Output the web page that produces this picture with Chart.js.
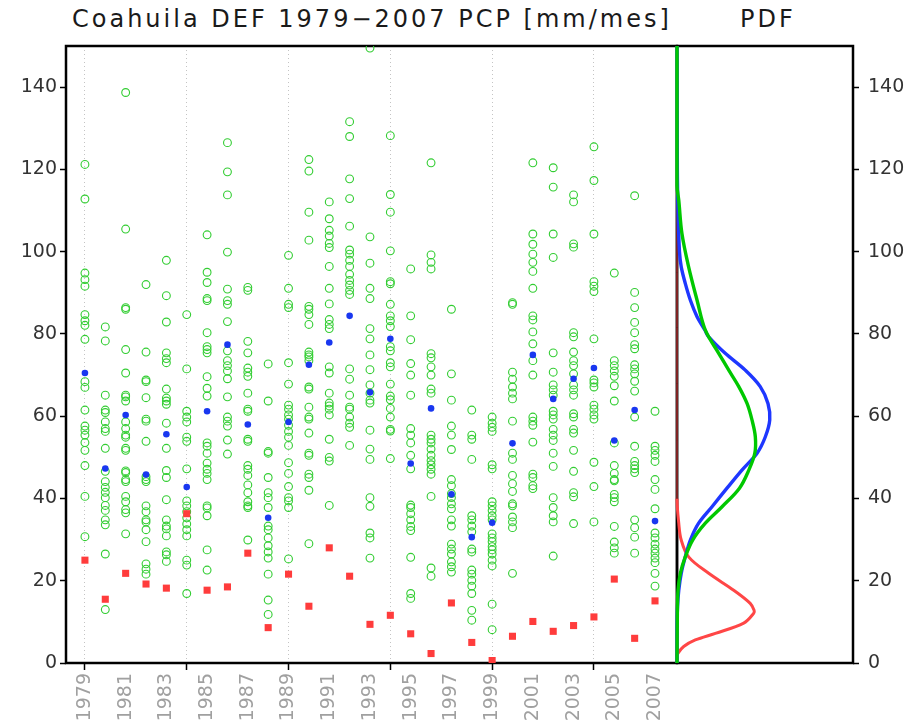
<!DOCTYPE html>
<html>
<head>
<meta charset="utf-8">
<script src="https://cdn.jsdelivr.net/npm/chart.js@4.4.1/dist/chart.umd.min.js"></script>
<style>
  html, body { margin: 0; padding: 0; background: #fff; }
  #wrap { position: relative; width: 912px; height: 727px; }
  #wrap canvas { position: absolute; left: 0; top: 0; }
  .title { position: absolute; top: 5px; font-family: "DejaVu Sans", sans-serif; font-size: 24px; letter-spacing: 3px; color: #1a1a1a; white-space: nowrap; }
</style>
</head>
<body>
<div id="wrap">
  <div class="title" style="left:72px">Coahuila DEF 1979−2007 PCP [mm/mes]</div>
  <div class="title" style="left:740px">PDF</div>
  <canvas id="scatter-chart" width="912" height="727"></canvas>
  <canvas id="pdf-chart" width="912" height="727"></canvas>
</div>
<script>
// years on the x axis
const years = [1979, 1980, 1981, 1982, 1983, 1984, 1985, 1986, 1987, 1988, 1989, 1990, 1991, 1992, 1993,
  1994, 1995, 1996, 1997, 1998, 1999, 2000, 2001, 2002, 2003, 2004, 2005, 2006, 2007];
const yTicks = [0, 20, 40, 60, 80, 100, 120, 140];

// observed (red squares)
const obs = [25.0, 15.5, 21.8, 19.2, 18.2, 36.3, 17.7, 18.5, 26.7, 8.6, 21.6, 13.8, 28.0, 21.1, 9.4,
  11.6, 7.1, 2.3, 14.6, 5.0, 0.6, 6.5, 10.1, 7.7, 9.1, 11.2, 20.4, 6.0, 15.1];

// ensemble mean (blue dots)
const ensMean = [70.5, 47.3, 60.3, 45.8, 55.6, 42.8, 61.2, 77.4, 58.0, 35.3, 58.6, 72.5, 77.9, 84.4, 65.8,
  78.8, 48.5, 61.9, 41.0, 30.6, 34.1, 53.4, 74.9, 64.2, 69.1, 71.7, 54.1, 61.5, 34.5];

// ensemble members (green circles), one list per year
const members = [
  [121.2, 112.8, 94.8, 93.2, 91.6, 84.7, 83.2, 82.1, 78.7, 68.4, 67.0, 61.5, 57.6, 56.6, 55.4, 53.6, 51.7, 48.0, 40.5, 30.7],
  [81.7, 78.3, 65.1, 61.5, 60.9, 58.6, 57.0, 56.3, 52.2, 46.6, 44.1, 42.7, 41.5, 40.2, 38.3, 37.1, 34.8, 33.6, 26.5, 13.0],
  [138.7, 105.5, 86.4, 86.0, 76.2, 70.5, 65.1, 64.7, 63.7, 58.6, 57.0, 55.4, 54.9, 52.2, 51.7, 46.7, 46.3, 44.6, 44.1, 40.5, 39.2, 37.3, 36.5, 31.4],
  [92.0, 75.6, 68.8, 68.4, 64.5, 59.3, 58.8, 53.9, 45.3, 44.6, 44.1, 38.2, 36.8, 34.8, 34.3, 32.4, 29.5, 24.1, 22.8, 21.6],
  [97.9, 89.3, 82.9, 75.4, 74.0, 73.0, 66.6, 64.4, 63.7, 62.9, 58.3, 52.2, 46.8, 45.1, 39.7, 34.8, 33.3, 32.6, 30.9, 27.0, 26.3, 24.7],
  [84.7, 71.5, 61.2, 59.8, 58.6, 54.9, 53.9, 47.2, 39.4, 38.2, 36.8, 35.3, 33.8, 32.4, 30.9, 25.0, 23.8, 16.9],
  [104.1, 95.0, 92.5, 88.6, 88.1, 80.3, 76.9, 76.2, 75.4, 69.6, 66.8, 64.9, 53.5, 52.7, 51.0, 48.6, 47.1, 46.1, 44.6, 38.2, 37.7, 35.8, 27.5, 22.6],
  [126.5, 119.4, 113.8, 99.9, 90.9, 88.1, 87.2, 83.0, 75.9, 73.5, 72.3, 71.0, 69.1, 64.7, 59.8, 58.8, 57.6, 54.2, 50.8],
  [91.3, 90.6, 78.2, 75.4, 71.7, 70.7, 69.7, 65.6, 61.7, 61.2, 54.4, 53.9, 48.0, 47.1, 45.6, 43.3, 41.4, 39.2, 38.2, 37.8, 29.9],
  [72.7, 63.7, 51.4, 51.0, 45.1, 41.4, 40.2, 37.8, 33.3, 32.4, 30.4, 28.5, 27.0, 25.5, 21.6, 15.3, 11.8],
  [99.1, 91.1, 87.2, 86.4, 73.0, 67.8, 62.7, 61.7, 60.3, 59.3, 57.8, 56.3, 54.9, 52.9, 48.7, 46.1, 42.9, 40.2, 39.4, 37.8, 25.3],
  [122.4, 119.6, 109.6, 102.8, 86.7, 86.0, 84.7, 82.3, 75.6, 74.9, 74.4, 73.5, 67.1, 66.6, 62.2, 59.8, 59.3, 55.9, 51.0, 50.5, 45.9, 45.1, 42.0, 29.0],
  [112.1, 108.0, 105.2, 103.8, 102.0, 101.0, 96.4, 91.1, 87.3, 83.5, 82.3, 81.3, 72.0, 70.5, 65.6, 63.2, 62.5, 61.7, 60.3, 54.4, 50.0, 49.1, 38.3],
  [131.6, 128.0, 117.7, 112.9, 106.2, 100.4, 99.4, 97.9, 96.4, 94.5, 93.0, 91.9, 90.6, 89.6, 71.5, 69.0, 65.1, 62.2, 61.7, 59.8, 58.3, 57.3, 52.9],
  [149.5, 103.6, 97.2, 91.1, 88.6, 81.3, 78.8, 74.9, 71.3, 67.6, 65.6, 63.9, 63.2, 56.6, 52.0, 49.5, 40.2, 38.1, 31.6, 30.4, 25.5],
  [128.2, 113.9, 109.6, 100.2, 92.7, 92.2, 87.2, 84.4, 83.2, 81.8, 76.9, 75.9, 73.0, 72.0, 67.8, 64.9, 64.0, 61.9, 59.8, 56.8, 56.4, 49.7],
  [95.8, 84.4, 78.6, 72.8, 70.0, 65.1, 57.0, 55.4, 53.5, 50.5, 47.2, 38.4, 37.8, 36.3, 34.8, 33.2, 32.2, 25.7, 16.9, 15.7],
  [121.6, 99.2, 97.4, 95.8, 75.2, 74.2, 72.0, 70.0, 66.6, 65.6, 55.4, 54.4, 53.5, 52.0, 50.5, 49.2, 48.2, 47.1, 45.9, 40.5, 23.1, 21.1],
  [86.0, 70.3, 63.9, 57.6, 55.4, 51.9, 44.6, 43.1, 41.2, 40.2, 38.7, 37.5, 34.8, 33.3, 28.9, 27.7, 26.5, 24.6, 23.4, 22.1],
  [61.5, 55.4, 54.4, 49.5, 35.8, 34.8, 33.3, 31.9, 27.7, 27.0, 22.6, 21.6, 20.1, 18.7, 16.9, 12.8, 10.4],
  [59.8, 58.3, 57.3, 56.3, 48.2, 47.2, 39.2, 38.2, 37.1, 35.8, 34.8, 31.4, 30.4, 29.5, 28.3, 27.5, 26.5, 25.0, 23.6, 14.3, 8.1],
  [87.6, 87.2, 70.7, 69.0, 67.1, 65.6, 64.2, 58.8, 51.0, 49.5, 45.6, 43.6, 41.7, 38.7, 38.2, 35.5, 34.3, 32.9, 21.8],
  [121.6, 104.3, 101.8, 99.4, 97.4, 95.2, 91.1, 84.4, 83.4, 80.5, 77.6, 73.5, 70.0, 59.8, 58.8, 57.8, 53.7, 45.9, 45.1, 43.1, 42.4],
  [120.4, 115.7, 104.3, 98.6, 75.4, 70.7, 67.6, 66.4, 65.1, 61.2, 60.3, 59.3, 56.8, 55.4, 54.1, 51.0, 47.8, 40.2, 37.8, 35.8, 34.3, 26.0],
  [113.8, 112.1, 101.9, 101.1, 80.3, 79.3, 75.6, 73.5, 72.3, 70.3, 67.6, 66.4, 65.1, 60.6, 59.8, 56.8, 55.9, 51.7, 46.6, 41.4, 40.4, 33.9],
  [125.5, 117.3, 104.3, 92.7, 91.6, 90.3, 78.8, 68.8, 68.1, 67.1, 62.7, 61.7, 60.3, 59.3, 48.8, 42.9, 34.3],
  [94.8, 73.5, 72.3, 71.0, 69.7, 67.4, 63.7, 53.5, 48.0, 46.1, 44.6, 44.3, 41.0, 40.2, 39.2, 33.2, 29.4, 28.0, 26.7],
  [113.6, 90.1, 86.4, 82.8, 80.3, 77.4, 76.4, 72.5, 71.5, 70.3, 68.5, 66.1, 59.8, 52.7, 49.0, 48.0, 47.2, 46.3, 34.8, 32.9, 30.6, 26.7],
  [61.2, 52.7, 51.7, 50.5, 49.0, 44.6, 42.2, 37.5, 31.6, 30.4, 28.9, 27.7, 26.7, 25.5, 24.4, 21.8, 18.7]
];

// PDF curves: level (mm/mes) and relative density
const pdfMeanLevel = [150, 120, 110, 100, 96.3, 92.3, 88.2, 84.2, 80.9, 79.3, 75.3, 71.2, 67.2, 63.1, 59.1, 55.0, 51.0, 46.9, 42.5, 38.0, 34.0, 29.9, 25.8, 21.8, 17.7, 13.7, 8, 0];
const pdfMeanDens = [0, 0.002, 0.006, 0.014, 0.024, 0.047, 0.076, 0.114, 0.159, 0.180, 0.274, 0.388, 0.473, 0.517, 0.527, 0.502, 0.455, 0.369, 0.284, 0.199, 0.123, 0.076, 0.047, 0.024, 0.010, 0.003, 0, 0];
const pdfEnsLevel = [150, 116, 112.5, 104.4, 96.3, 88.2, 80.9, 75.3, 71.2, 67.2, 63.1, 59.1, 55.0, 51.0, 46.9, 42.5, 38.0, 34.0, 29.9, 25.8, 21.8, 17.7, 12, 0];
const pdfEnsDens = [0, 0, 0.010, 0.028, 0.066, 0.114, 0.161, 0.237, 0.294, 0.351, 0.398, 0.426, 0.445, 0.442, 0.408, 0.355, 0.256, 0.161, 0.089, 0.047, 0.019, 0.006, 0.002, 0];
const pdfObsLevel = [150, 40, 34, 29.9, 25.8, 21.8, 17.7, 14.5, 12.8, 12.1, 9.7, 7.2, 5.6, 4.0, 2.4, 1.6, 0];
const pdfObsDens = [0, 0, 0.010, 0.024, 0.066, 0.180, 0.322, 0.416, 0.438, 0.436, 0.379, 0.218, 0.104, 0.038, 0.006, 0, 0];

const tickFont = { family: "DejaVu Sans", size: 19 };

// black frame round the plot area, under the marks
const framePlugin = {
    id: "frame",
    beforeDatasetsDraw(chart, args, opts) {
        const { ctx, chartArea: a } = chart;
        ctx.save();
        ctx.strokeStyle = "#000";
        ctx.lineWidth = opts.width || 2.5;
        ctx.strokeRect(a.left, a.top, a.right - a.left, a.bottom - a.top);
        ctx.restore();
    }
};

const pairs = (xs, ys) => xs.map((x, i) => ({ x: x, y: ys[i] }));

// Scatter panel
const memberPoints = members.flatMap((vals, i) => vals.map(v => ({ x: years[i], y: v })));

new Chart(document.getElementById("scatter-chart"), {
    type: "scatter",
    data: {
        datasets: [
            {
                label: "obs",
                data: pairs(years, obs),
                pointStyle: "rect",
                pointRadius: 5,
                backgroundColor: "rgb(255,60,60)",
                borderWidth: 0
            },
            {
                label: "mean",
                data: pairs(years, ensMean),
                pointRadius: 3.3,
                backgroundColor: "rgb(25,55,240)",
                borderWidth: 0
            },
            {
                label: "members",
                data: memberPoints,
                pointRadius: 3.9,
                backgroundColor: "rgba(0,0,0,0)",
                borderColor: "rgb(50,205,50)",
                borderWidth: 1.1
            }
        ]
    },
    options: {
        responsive: false,
        animation: false,
        layout: { padding: { left: 0, top: 46, right: 235, bottom: 0 } },
        plugins: { legend: { display: false }, tooltip: { enabled: false }, frame: { width: 2.5 } },
        scales: {
            x: {
                type: "linear",
                min: 1978.07,
                max: 2008.08,
                afterBuildTicks: s => { s.ticks = years.map(v => ({ value: v })); },
                afterFit: s => { s.height = 64; },
                border: { display: false, dash: [1, 3] },
                grid: {
                    color: c => (c.tick && (c.tick.value - 1979) % 5 === 0) ? "#c4c4c4" : "rgba(0,0,0,0)",
                    tickColor: c => (c.tick && (c.tick.value - 1979) % 5 === 0) ? "#000" : "rgba(0,0,0,0)",
                    tickLength: 7,
                    tickWidth: 1.5
                },
                ticks: {
                    autoSkip: false,
                    minRotation: 90,
                    maxRotation: 90,
                    padding: 3,
                    color: "#a0a0a0",
                    font: { family: "DejaVu Sans", size: 19 },
                    callback: v => (v % 2 === 1 ? String(v) : "")
                }
            },
            y: {
                min: 0,
                max: 150,
                afterBuildTicks: s => { s.ticks = yTicks.map(v => ({ value: v })); },
                afterFit: s => { s.width = 66; },
                border: { display: false },
                grid: { drawOnChartArea: false, tickLength: 6, tickColor: "#000", tickWidth: 1.5 },
                ticks: { color: "#333", padding: 3, font: tickFont }
            }
        }
    },
    plugins: [framePlugin]
});

// PDF panel
new Chart(document.getElementById("pdf-chart"), {
    type: "scatter",
    data: {
        datasets: [
            { label: "ens", data: pairs(pdfEnsDens, pdfEnsLevel), borderColor: "rgb(0,200,0)", borderWidth: 3.4 },
            { label: "mean", data: pairs(pdfMeanDens, pdfMeanLevel), borderColor: "rgb(30,55,255)", borderWidth: 3.4 },
            {
                label: "obs",
                data: pairs(pdfObsDens, pdfObsLevel),
                borderColor: "rgb(255,70,70)",
                borderWidth: 3,
                // the flat tail sits on the frame as a thin line
                segment: { borderWidth: c => (c.p0.parsed.x === 0 && c.p1.parsed.x === 0 ? 1 : undefined) }
            }
        ].map(d => Object.assign(d, { showLine: true, pointRadius: 0, tension: 0.35, clip: 6 }))
    },
    options: {
        responsive: false,
        animation: false,
        layout: { padding: { left: 677, top: 46, right: 0, bottom: 64 } },
        plugins: { legend: { display: false }, tooltip: { enabled: false }, frame: { width: 2.5 } },
        scales: {
            x: { type: "linear", min: 0, max: 1, display: false },
            y: {
                position: "right",
                min: 0,
                max: 150,
                afterBuildTicks: s => { s.ticks = yTicks.map(v => ({ value: v })); },
                afterFit: s => { s.width = 59; },
                border: { display: false },
                grid: { drawOnChartArea: false, tickLength: 6, tickColor: "#000", tickWidth: 1.5 },
                ticks: { color: "#333", padding: 9, font: tickFont }
            }
        }
    },
    plugins: [framePlugin]
});
</script>
</body>
</html>
